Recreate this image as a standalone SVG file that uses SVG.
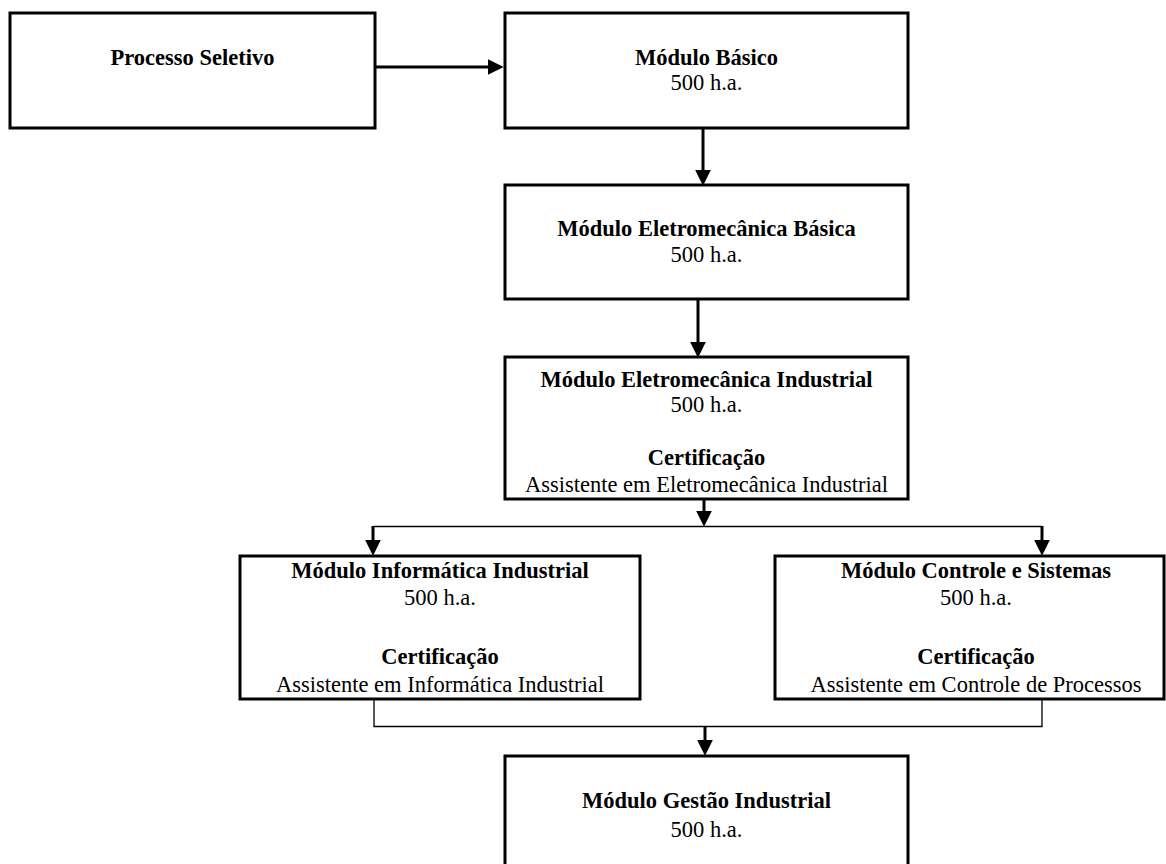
<svg xmlns="http://www.w3.org/2000/svg" width="1166" height="864" viewBox="0 0 1166 864">
<defs>
<style>
.box{fill:#fff;stroke:#000;stroke-width:3}
text{font-family:"Liberation Serif","Times New Roman",serif;font-size:22.5px;fill:#000;text-anchor:middle}
.b{font-weight:bold}
.thick{stroke:#000;stroke-width:3;fill:none}
.thin{stroke:#000;stroke-width:1.3;fill:none}
</style>
<marker id="ah" markerUnits="userSpaceOnUse" markerWidth="16" markerHeight="16" viewBox="0 0 15 15" refX="5" refY="7.5" orient="auto">
<path d="M0,0 L15,7.5 L0,15 z" fill="#000"/>
</marker>
</defs>
<rect width="1166" height="864" fill="#fff"/>
<g id="connectors">
<line class="thick" x1="376" y1="67" x2="493" y2="67" marker-end="url(#ah)"/>
<line class="thick" x1="703" y1="129" x2="703" y2="175" marker-end="url(#ah)"/>
<line class="thick" x1="698" y1="300" x2="698" y2="347" marker-end="url(#ah)"/>
<line class="thick" x1="704" y1="500" x2="704" y2="516" marker-end="url(#ah)"/>
<line class="thin" x1="373" y1="526.5" x2="1042" y2="526.5"/>
<line class="thick" x1="373" y1="526" x2="373" y2="545" marker-end="url(#ah)"/>
<line class="thick" x1="1042" y1="526" x2="1042" y2="545" marker-end="url(#ah)"/>
<polyline class="thin" points="374,700 374,726.5 1042,726.5 1042,700"/>
<line class="thick" x1="705" y1="726" x2="705" y2="745" marker-end="url(#ah)"/>
</g>
<g id="processo-seletivo">
<rect class="box" x="10" y="13" width="365" height="115"/>
<text class="b" x="192.5" y="65">Processo Seletivo</text>
</g>
<g id="modulo-basico">
<rect class="box" x="505" y="13" width="403" height="115"/>
<text class="b" x="706.5" y="65">Módulo Básico</text>
<text x="706.5" y="90">500 h.a.</text>
</g>
<g id="modulo-eletromecanica-basica">
<rect class="box" x="505" y="185" width="403" height="114"/>
<text class="b" x="706.5" y="236">Módulo Eletromecânica Básica</text>
<text x="706.5" y="262">500 h.a.</text>
</g>
<g id="modulo-eletromecanica-industrial">
<rect class="box" x="505" y="357" width="403" height="142"/>
<text class="b" x="706.5" y="387">Módulo Eletromecânica Industrial</text>
<text x="706.5" y="412">500 h.a.</text>
<text class="b" x="706.5" y="465">Certificação</text>
<text x="706.5" y="492">Assistente em Eletromecânica Industrial</text>
</g>
<g id="modulo-informatica-industrial">
<rect class="box" x="240" y="556" width="400" height="143"/>
<text class="b" x="440" y="578">Módulo Informática Industrial</text>
<text x="440" y="605">500 h.a.</text>
<text class="b" x="440" y="664">Certificação</text>
<text x="440" y="692">Assistente em Informática Industrial</text>
</g>
<g id="modulo-controle-sistemas">
<rect class="box" x="775" y="556" width="389" height="143"/>
<text class="b" x="976" y="578">Módulo Controle e Sistemas</text>
<text x="976" y="605">500 h.a.</text>
<text class="b" x="976" y="664">Certificação</text>
<text x="976" y="692">Assistente em Controle de Processos</text>
</g>
<g id="modulo-gestao-industrial">
<rect class="box" x="505" y="756" width="403" height="130"/>
<text class="b" x="706.5" y="808">Módulo Gestão Industrial</text>
<text x="706.5" y="837">500 h.a.</text>
</g>
</svg>
